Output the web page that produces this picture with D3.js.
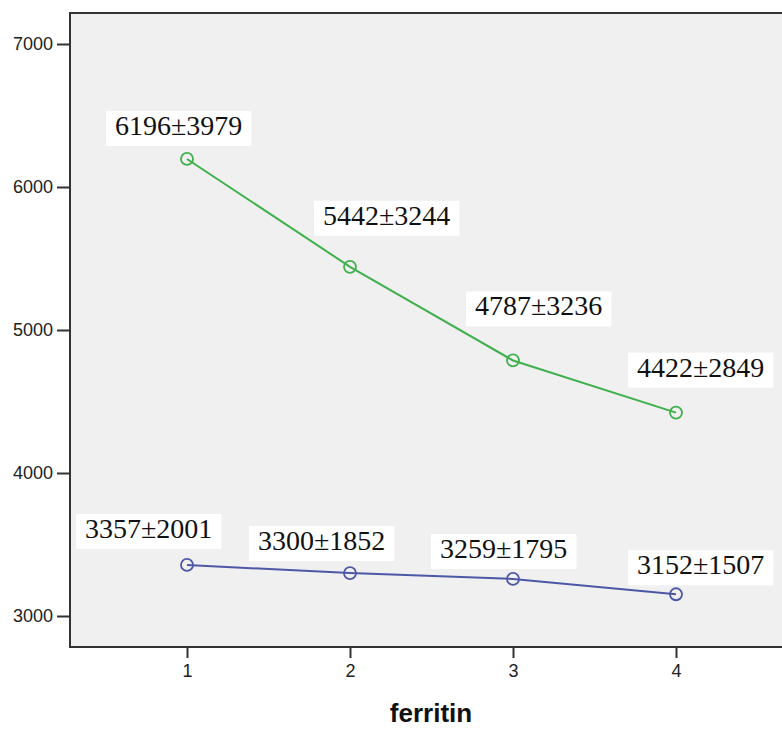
<!DOCTYPE html>
<html>
<head>
<meta charset="utf-8">
<script src="https://cdn.jsdelivr.net/npm/d3@7"></script>
<style>
  body { margin: 0; background: #fff; }
  svg { display: block; }
</style>
</head>
<body>
<svg id="chart" width="782" height="730"></svg>
<script>
// data
const groups = [1, 2, 3, 4];
const upperMean = [6196, 5442, 4787, 4422];
const upperSd = [3979, 3244, 3236, 2849];
const lowerMean = [3357, 3300, 3259, 3152];
const lowerSd = [2001, 1852, 1795, 1507];
const yTicks = [3000, 4000, 5000, 6000, 7000];
const xLabel = "ferritin";

// label offsets from each point (text start, baseline)
const upperLabelOff = [[-72, -24], [-27, -42], [-38, -45], [-39, -36]];
const lowerLabelOff = [[-102, -27], [-92, -23], [-73, -21], [-39, -20]];

const green = "#3fb04c";
const blue = "#4c58a6";

const svg = d3.select("#chart");
const plot = { left: 70, top: 13, right: 794, bottom: 647 };

const x = d3.scaleLinear().domain([1, 4]).range([187, 676]);
const y = d3.scaleLinear().domain([3000, 7000]).range([616, 44]);

// plot background
svg.append("rect")
  .attr("x", plot.left)
  .attr("y", plot.top)
  .attr("width", plot.right - plot.left)
  .attr("height", plot.bottom - plot.top)
  .attr("fill", "#f0f0f0")
  .attr("stroke", "#333")
  .attr("stroke-width", 2);

const yAxis = svg.append("g")
  .attr("transform", "translate(" + plot.left + ",0)")
  .call(d3.axisLeft(y).tickValues(yTicks).tickSize(13).tickPadding(4).tickFormat(d3.format("d")));

const xAxis = svg.append("g")
  .attr("transform", "translate(0," + plot.bottom + ")")
  .call(d3.axisBottom(x).tickValues(groups).tickSize(11).tickPadding(6).tickFormat(d3.format("d")));

[yAxis, xAxis].forEach(function(a) {
  a.select(".domain").remove();
  a.selectAll("line").attr("stroke", "#333").attr("stroke-width", 2);
  a.selectAll("text")
    .attr("fill", "#222")
    .style("font-family", "'Liberation Sans', Arial, sans-serif")
    .style("font-size", "18px");
});

svg.append("text")
  .attr("x", 431)
  .attr("y", 722)
  .attr("text-anchor", "middle")
  .style("font-family", "'Liberation Sans', Arial, sans-serif")
  .style("font-size", "26px")
  .style("font-weight", "bold")
  .attr("fill", "#111")
  .text(xLabel);

function drawSeries(means, sds, offs, color) {
  const pts = groups.map(function(g, i) { return { g: g, m: means[i], s: sds[i], off: offs[i] }; });

  const line = d3.line()
    .x(function(d) { return x(d.g); })
    .y(function(d) { return y(d.m); });

  svg.append("path")
    .datum(pts)
    .attr("d", line)
    .attr("fill", "none")
    .attr("stroke", color)
    .attr("stroke-width", 2);

  svg.append("g")
    .selectAll("circle")
    .data(pts)
    .enter()
    .append("circle")
    .attr("cx", function(d) { return x(d.g); })
    .attr("cy", function(d) { return y(d.m); })
    .attr("r", 6)
    .attr("fill", "none")
    .attr("stroke", color)
    .attr("stroke-width", 1.8);

  const labels = svg.append("g")
    .selectAll("g")
    .data(pts)
    .enter()
    .append("g");

  labels.append("rect");
  labels.append("text")
    .attr("x", function(d) { return x(d.g) + d.off[0]; })
    .attr("y", function(d) { return y(d.m) + d.off[1]; })
    .style("font-family", "'Liberation Serif', 'Times New Roman', serif")
    .style("font-size", "28px")
    .attr("fill", "#111")
    .text(function(d) { return d.m + "\u00b1" + d.s; });

  labels.each(function() {
    const g = d3.select(this);
    const bb = g.select("text").node().getBBox();
    g.select("rect")
      .attr("x", bb.x - 9)
      .attr("y", bb.y + 1)
      .attr("width", bb.width + 18)
      .attr("height", bb.height + 4)
      .attr("fill", "#fff");
  });
}

drawSeries(upperMean, upperSd, upperLabelOff, green);
drawSeries(lowerMean, lowerSd, lowerLabelOff, blue);
</script>
</body>
</html>
